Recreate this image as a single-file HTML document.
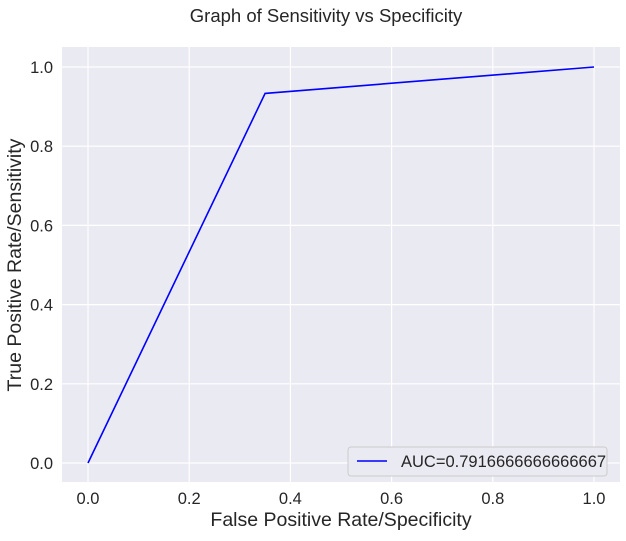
<!DOCTYPE html>
<html><head><meta charset="utf-8"><style>
body{margin:0;background:#fff;}
svg text{font-family:"Liberation Sans","DejaVu Sans",sans-serif;fill:#262626;}
</style></head><body>
<svg width="626" height="536" viewBox="0 0 626 536" xmlns="http://www.w3.org/2000/svg">
<rect x="62" y="47" width="558" height="435" fill="#eaeaf2"/>
<g id="grid"></g>
<g id="ticks"></g>
<polyline id="roc" fill="none" stroke="#0000ff" stroke-width="1.6"/>
<text x="326" y="22" font-size="18.5" text-anchor="middle">Graph of Sensitivity vs Specificity</text>
<text x="341" y="526" font-size="19.5" text-anchor="middle">False Positive Rate/Specificity</text>
<text transform="translate(21,265) rotate(-90)" font-size="19.5" text-anchor="middle">True Positive Rate/Sensitivity</text>
<g>
<rect x="348" y="447" width="259" height="29" rx="3" fill="#eaeaf2" stroke="#cccccc"/>
<line x1="357" y1="461" x2="387" y2="461" stroke="#0000ff" stroke-width="1.6"/>
<text x="401" y="467" font-size="16.5">AUC=0.7916666666666667</text>
</g>
</svg>
<script>
const fpr=[0,0.35,1];
const tpr=[0,0.9333,1];
const xTicks=["0.0","0.2","0.4","0.6","0.8","1.0"];
const yTicks=["0.0","0.2","0.4","0.6","0.8","1.0"];
const X=v=>88+v*506, Y=v=>463-v*396;
const ns="http://www.w3.org/2000/svg";
const g=document.getElementById('grid'), t=document.getElementById('ticks');
xTicks.forEach(s=>{const v=parseFloat(s);
 const l=document.createElementNS(ns,'line');l.setAttribute('x1',X(v));l.setAttribute('x2',X(v));l.setAttribute('y1',47);l.setAttribute('y2',482);l.setAttribute('stroke','#fff');l.setAttribute('stroke-width','1.2');
 
 g.appendChild(l);
 const tx=document.createElementNS(ns,'text');tx.setAttribute('x',X(v));tx.setAttribute('y',504);tx.setAttribute('font-size','16.5');tx.setAttribute('text-anchor','middle');tx.textContent=s;
 
 t.appendChild(tx);});
yTicks.forEach(s=>{const v=parseFloat(s);
 const l=document.createElementNS(ns,'line');l.setAttribute('y1',Y(v));l.setAttribute('y2',Y(v));l.setAttribute('x1',62);l.setAttribute('x2',620);l.setAttribute('stroke','#fff');l.setAttribute('stroke-width','1.2');
 
 g.appendChild(l);
 const tx=document.createElementNS(ns,'text');tx.setAttribute('x',53);tx.setAttribute('y',Y(v)+6);tx.setAttribute('font-size','16.5');tx.setAttribute('text-anchor','end');tx.textContent=s;
 
 t.appendChild(tx);});
document.getElementById('roc').setAttribute('points',fpr.map((f,i)=>X(f)+','+Y(tpr[i])).join(' '));
</script>
</body></html>
